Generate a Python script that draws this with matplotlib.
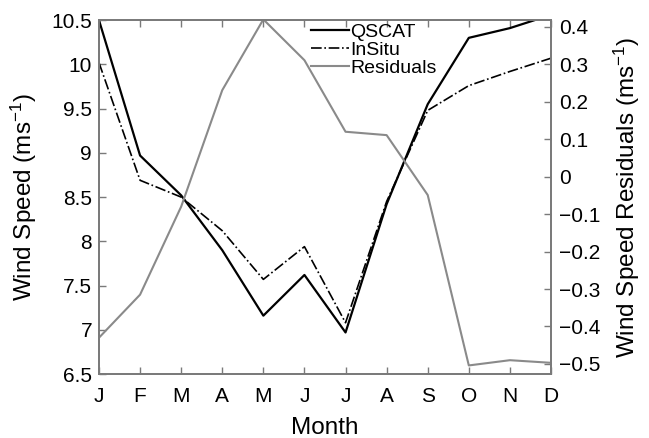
import matplotlib
matplotlib.use("Agg")
import matplotlib.pyplot as plt
import numpy as np

plt.rcParams['font.family'] = ['Liberation Sans', 'DejaVu Sans']
plt.rcParams['mathtext.fontset'] = 'custom'
plt.rcParams['mathtext.rm'] = 'Liberation Sans'
plt.rcParams['mathtext.default'] = 'regular'

months = ['J', 'F', 'M', 'A', 'M', 'J', 'J', 'A', 'S', 'O', 'N', 'D']
qscat = [10.5, 8.97, 8.52, 7.9, 7.16, 7.62, 6.97, 8.42, 9.55, 10.3, 10.41, 10.56]
insitu = [10.02, 8.69, 8.5, 8.12, 7.57, 7.94, 7.08, 8.45, 9.48, 9.76, 9.92, 10.07]
residuals = [-0.43, -0.315, -0.08, 0.231, 0.42, 0.311, 0.12, 0.111, -0.049, -0.504, -0.49, -0.497]

left_ticks = [6.5, 7, 7.5, 8, 8.5, 9, 9.5, 10, 10.5]
right_ticks = [-0.5, -0.4, -0.3, -0.2, -0.1, 0, 0.1, 0.2, 0.3, 0.4]

spine_col = '#7a7a7a'
x = np.arange(len(months))

fig = plt.figure(figsize=(6.49, 4.38), dpi=100)
ax = fig.add_axes([0.1525, 0.146, 0.6965, 0.808])
ax2 = ax.twinx()

l1, = ax.plot(x, qscat, color='black', lw=1.6, label='QSCAT')
l2, = ax.plot(x, insitu, color='black', lw=1.2, ls='-.', label='InSitu')
l3, = ax2.plot(x, residuals, color='#8a8a8a', lw=1.5, label='Residuals')

ax.set_xlim(0, 11)
ax.set_ylim(6.5, 10.5)
ax2.set_ylim(-0.527, 0.418)

ax.set_xticks(x)
ax.set_xticklabels(months)
ax.set_yticks(left_ticks)
ax.set_yticklabels(['%g' % v for v in left_ticks])
ax2.set_yticks(right_ticks)
ax2.set_yticklabels([('%g' % v).replace('-', '\u2212') for v in right_ticks])

for a in (ax, ax2):
    for s in a.spines.values():
        s.set_color(spine_col)
        s.set_linewidth(1.3)
    a.tick_params(direction='in', color=spine_col, labelsize=15, length=5, width=1)
ax.tick_params(top=True)
ax.tick_params(axis='x', pad=9)
ax.tick_params(axis='y', pad=5)
ax2.tick_params(axis='y', pad=6)

ax.set_xlabel('Month', fontsize=17.5, labelpad=8)
ax.set_ylabel('Wind Speed (ms$^{-1}$)', fontsize=17.5, labelpad=9)
ax2.set_ylabel('Wind Speed Residuals (ms$^{-1}$)', fontsize=17.5, labelpad=8)

ax2.legend(handles=[l1, l2, l3], loc='upper left', bbox_to_anchor=(0.469, 0.99),
           frameon=False, fontsize=14, handlelength=1.95, handletextpad=0.08,
           labelspacing=0.0, borderaxespad=0, borderpad=0)

fig.savefig('out.png', dpi=100)
